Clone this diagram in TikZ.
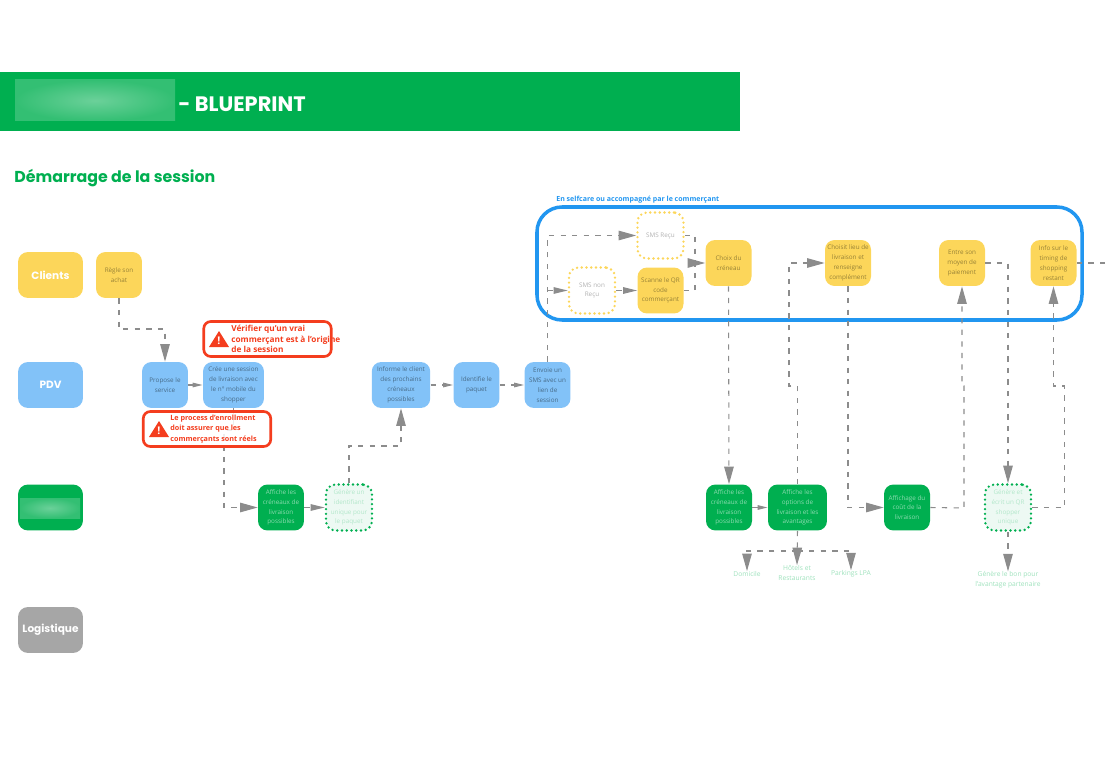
\documentclass[tikz,border=0pt]{standalone}
\usepackage{fontspec}
\usepackage{xcolor}
\setmainfont{Open Sans}
\newfontfamily\titlefont{Poppins}
\usetikzlibrary{arrows.meta, positioning, calc}

\definecolor{bpgreen}{HTML}{00AF50}
\definecolor{bpyellow}{HTML}{FCD65A}
\definecolor{bpblue}{HTML}{82C2F8}
\definecolor{bpgray}{HTML}{A6A6A6}
\definecolor{bpred}{HTML}{F43D1E}
\definecolor{bpframe}{HTML}{2196F0}
\definecolor{bpline}{HTML}{8C8C8C}

\tikzset{
    rowlabel/.style={rounded corners=0.2cm, minimum width=1.3cm, minimum height=0.92cm, inner sep=0pt,
        text=white, font=\titlefont\bfseries\fontsize{6}{7}\selectfont},
    stepbox/.style={rounded corners=0.19cm, minimum width=0.92cm, minimum height=0.92cm, inner sep=0pt,
        align=center, font=\fontsize{3.6}{5.6}\selectfont},
    yellowbox/.style={stepbox, fill=bpyellow, text=bpyellow!60!black},
    bluebox/.style={stepbox, fill=bpblue, text=bpblue!55!black},
    greenbox/.style={stepbox, fill=bpgreen, text=white!55!bpgreen},
    dotyellow/.style={stepbox, draw=bpyellow, fill=white, text=black!30, line width=1.5pt, line cap=round, dash pattern=on 0pt off 2.7pt},
    dotgreen/.style={stepbox, draw=bpgreen, fill=bpgreen!7, text=bpgreen!30, line width=1.5pt, line cap=round, dash pattern=on 0pt off 2.7pt},
    outlabel/.style={align=center, inner sep=0pt, text=bpgreen!38, font=\fontsize{3.8}{5.6}\selectfont},
    flow/.style={draw=bpline, line width=0.6pt, dash pattern=on 3pt off 3.6pt, -{Triangle[length=0.35cm, width=0.19cm, fill=bpline]}},
    flowmid/.style={flow, -{Triangle[length=0.28cm, width=0.13cm, fill=bpline]}},
    flowsmall/.style={flow, -{Triangle[length=0.2cm, width=0.09cm, fill=bpline]}},
    flowplain/.style={draw=bpline, line width=0.6pt, dash pattern=on 3pt off 3.6pt},
    warnbox/.style={draw=bpred, line width=1.5pt, rounded corners=0.14cm, fill=white, fill opacity=0.85, text opacity=1,
        minimum width=2.55cm, minimum height=0.7cm, inner sep=0pt},
    warntext/.style={text=bpred, inner sep=0pt, align=left, font=\bfseries\fontsize{4.7}{5.9}\selectfont},
    warnmark/.style={text=white, inner sep=0pt, font=\bfseries\fontsize{6}{6}\selectfont},
    blurstrip/.style={inner color=bpgreen!58!white, outer color=bpgreen!80!white},
}

\begin{document}
\begin{tikzpicture}[x=0.02cm, y=-0.02cm]
\useasboundingbox (0,0) rectangle (1110,767);

% Bandeau
\fill[bpgreen] (0,72) rectangle (740,131);
\shade[blurstrip] (15,80) rectangle (175,121);
\node[anchor=west, inner sep=0pt, text=white, font=\titlefont\bfseries\fontsize{11.9}{13}\selectfont] (bandtitle) at (178,104) {- BLUEPRINT};
\node[anchor=west, inner sep=0pt, text=bpgreen, font=\titlefont\bfseries\fontsize{9}{10}\selectfont] (sectitle) at (14,178) {Démarrage de la session};

% Lignes
\node[rowlabel, fill=bpyellow] (rowclient) at (50.5,275) {Clients};
\node[rowlabel, fill=bpblue] (rowpdv) at (50.5,385) {PDV};
\node[rowlabel, fill=bpgreen] (rowmap) at (50.5,507.5) {};
\shade[blurstrip] (20,498) rectangle (80,518);
\node[rowlabel, fill=bpgray] (rowlog) at (50.5,630) {Logistique};

% Cadre selfcare
\draw[bpframe, line width=2pt, rounded corners=0.5cm] (537,207) rectangle (1082,320);
\node[anchor=west, inner sep=0pt, text=bpframe, font=\bfseries\fontsize{4}{6}\selectfont] (framelabel) at (556,200) {En selfcare ou accompagné par le commerçant};

% Clients
\node[yellowbox] (achat) at (119,275) {Règle son\\achat};
\node[dotyellow] (smsrecu) at (660.5,235.5) {SMS Reçu};
\node[dotyellow] (smsnon) at (592,290.5) {SMS non\\Reçu};
\node[yellowbox] (scan) at (660.5,290.5) {Scanne le QR\\code\\commerçant};
\node[yellowbox] (choix) at (728.5,263) {Choix du\\créneau};
\node[yellowbox] (lieu) at (848,263) {Choisit lieu de\\livraison et\\renseigne\\complément};
\node[yellowbox] (paiement) at (962,263) {Entre son\\moyen de\\paiement};
\node[yellowbox] (timing) at (1053.5,263) {Info sur le\\timing de\\shopping\\restant};

% PDV
\node[bluebox] (propose) at (165,385) {Propose le\\service};
\node[bluebox, minimum width=1.22cm] (session) at (233.5,385) {Crée une session\\de livraison avec\\le n° mobile du\\shopper};
\node[bluebox, minimum width=1.17cm] (informe) at (401,385) {Informe le client\\des prochains\\créneaux\\possibles};
\node[bluebox] (paquet) at (476.5,385) {Identifie le\\paquet};
\node[bluebox] (envoi) at (547.5,385) {Envoie un\\SMS avec un\\lien de\\session};

% Service
\node[greenbox] (creneaux) at (281,507.5) {Affiche les\\créneaux de\\livraison\\possibles};
\node[dotgreen] (ident) at (349,507.5) {Génère un\\identifiant\\unique pour\\le paquet};
\node[greenbox] (creneauxb) at (729,507.5) {Affiche les\\créneaux de\\livraison\\possibles};
\node[greenbox, minimum width=1.18cm] (options) at (797.5,507.5) {Affiche les\\options de\\livraison et les\\avantages};
\node[greenbox] (cout) at (907,507.5) {Affichage du\\coût de la\\livraison};
\node[dotgreen] (qr) at (1008,507.5) {Génère et\\écrit un QR\\shopper\\unique};

% Sorties
\node[outlabel] (domicile) at (747,574) {Domicile};
\node[outlabel] (hotels) at (797,573) {Hôtels et\\Restaurants};
\node[outlabel] (parkings) at (851,574) {Parkings LPA};
\node[outlabel] (bon) at (1008,580) {Génère le bon pour\\l'avantage partenaire};

% Points de passage
\coordinate (k1) at (165,329);
\coordinate (k2) at (224,430);
\coordinate (k3) at (401,446);
\coordinate (k4) at (695,263);
\coordinate (k5) at (789,386);
\coordinate (k6) at (797.5,551);
\coordinate (k7) at (964,508);
\coordinate (k8) at (962,386);
\coordinate (k9) at (1064.5,386);
\coordinate (kend) at (1110,263);

% Connecteurs
\draw[flow] (achat.south) |- (k1) -- (propose.north);
\draw[flowsmall] (propose.east) -- (session.west);
\draw[flow] (session.south) |- (k2) |- (creneaux.west);
\draw[flowmid] (creneaux.east) -- (ident.west);
\draw[flow] (ident.north) |- (k3) -- (informe.south);
\draw[flowsmall] (informe.east) -- (paquet.west);
\draw[flowsmall] (paquet.east) -- (envoi.west);
\draw[flow] (envoi.north) |- (smsrecu.west);
\draw[flowmid] (envoi.north |- smsnon.west) -- (smsnon.west);
\draw[flowmid] (smsnon.east) -- (scan.west);
\draw[flowplain] (smsrecu.east) -| (k4);
\draw[flowplain] (scan.east) -| (k4);
\draw[flow] (k4) -- (choix.west);
\draw[flow] (choix.south) -- (creneauxb.north);
\draw[flowsmall] (creneauxb.east) -- (options.west);
\draw[flow] (options.north) |- (k5) |- (lieu.west);
\draw[flow] (options.south) -- (hotels.north);
\draw[flow] (k6) -| (domicile.north);
\draw[flow] (k6) -| (parkings.north);
\draw[flow] (lieu.south) |- (cout.west);
\draw[flow] (cout.east) -- (k7) |- (k8) -- (paiement.south);
\draw[flow] (paiement.east) -| (qr.north);
\draw[flow] (qr.east) -| (k9) -| (timing.south);
\draw[flow] (qr.south) -- (bon.north);
\draw[flowplain] (timing.east) -- (kend);

% Alertes
\node[warnbox] (warna) at (267.5,339) {};
\node[warntext, anchor=west] (warnatext) at (231,339) {Vérifier qu'un vrai\\commerçant est à l'origine\\de la session};
\fill[bpred, line join=round] (219,331) -- (229,347) -- (209,347) -- cycle;
\node[warnmark] (warnamark) at (219,341) {!};
\node[warnbox] (warnb) at (207,429) {};
\node[warntext, anchor=west, font=\bfseries\fontsize{4.1}{5.9}\selectfont] (warnbtext) at (170,429) {Le process d'enrollment\\doit assurer que les\\commerçants sont réels};
\fill[bpred, line join=round] (159,421) -- (169,437) -- (149,437) -- cycle;
\node[warnmark] (warnbmark) at (159,431) {!};
\end{tikzpicture}
\end{document}
